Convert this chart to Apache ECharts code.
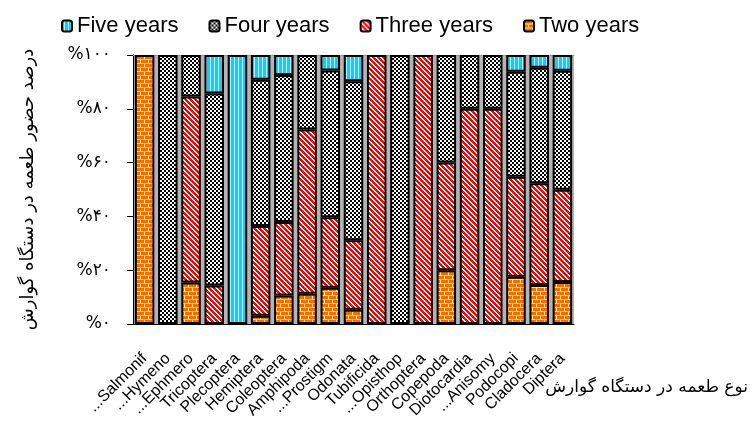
<!DOCTYPE html>
<html>
<head>
<meta charset="utf-8">
<script src="https://cdn.jsdelivr.net/npm/echarts@6/dist/echarts.min.js"></script>
<style>
  html, body { margin: 0; padding: 0; background: #fff; }
  #chart { width: 750px; height: 421px; }
</style>
</head>
<body>
<div id="chart"></div>
<script>
// Prey groups found in the gut (x axis)
const categories = ['...Salmonif', '...Hymeno', '...Ephmero', 'Tricoptera', 'Plecoptera', 'Hemiptera',
  'Coleoptera', 'Amphipoda', '...Prostigm', 'Odonata', 'Tubificida', '...Opisthop', 'Orthoptera',
  'Copepoda', 'Diotocardia', '...Anisomy', 'Podocopi', 'Cladocera', 'Diptera'];

// Share of occurrence (%) per age class
const twoYears   = [100, 0, 15.4, 0, 0, 3.1, 10.6, 11.2, 13.5, 5.3, 0, 0, 0, 20, 0, 0, 17.6, 14.5, 15.6];
const threeYears = [0, 0, 69.2, 14.3, 0, 33.3, 27.3, 61.1, 26.2, 25.8, 100, 0, 100, 40, 80, 80, 37.1, 37.8, 34.3];
const fourYears  = [0, 100, 15.4, 71.4, 0, 54.4, 54.7, 27.7, 54.5, 59.1, 0, 100, 0, 40, 20, 20, 39.1, 43.0, 44.2];
const fiveYears  = [0, 0, 0, 14.3, 100, 9.2, 7.4, 0, 5.8, 9.8, 0, 0, 0, 0, 0, 0, 6.2, 4.7, 5.9];

const seriesNames = ['Two years', 'Three years', 'Four years', 'Five years'];
const legendOrder = ['Five years', 'Four years', 'Three years', 'Two years'];

// Y tick labels in Persian digits
const yTickLabels = ['%۰', '%۲۰', '%۴۰', '%۶۰', '%۸۰', '%۱۰۰'];

const yTitle = 'درصد حضور طعمه در دستگاه گوارش';
const xTitle = 'نوع طعمه در دستگاه گوارش';

// Small canvas tiles used as fill patterns
function tile(w, h, paint) {
  const c = document.createElement('canvas');
  c.width = w; c.height = h;
  const ctx = c.getContext('2d');
  paint(ctx);
  return { image: c, repeat: 'repeat' };
}

const brick = tile(8, 8, ctx => {
  ctx.fillStyle = '#ff6a00'; ctx.fillRect(0, 0, 8, 8);
  ctx.fillStyle = '#ffe27a';
  ctx.fillRect(0, 3, 8, 1); ctx.fillRect(0, 7, 8, 1);
  ctx.fillRect(0, 0, 1, 3); ctx.fillRect(4, 4, 1, 3);
});

// red diagonal hatching running down to the right
const stripes = tile(5, 5, ctx => {
  ctx.fillStyle = '#ffffff'; ctx.fillRect(0, 0, 5, 5);
  ctx.fillStyle = '#ff0000';
  for (let y = 0; y < 5; y++) for (let x = 0; x < 5; x++) {
    if (((x - y) % 5 + 5) % 5 < 3) ctx.fillRect(x, y, 1, 1);
  }
});

const checker = tile(4, 4, ctx => {
  ctx.fillStyle = '#000'; ctx.fillRect(0, 0, 4, 4);
  ctx.fillStyle = '#fff';
  ctx.fillRect(0, 0, 2, 2); ctx.fillRect(2, 2, 2, 2);
});

const cyan = tile(4, 1, ctx => {
  ctx.fillStyle = '#1ec8f0'; ctx.fillRect(0, 0, 4, 1);
  ctx.fillStyle = '#a8f4ff'; ctx.fillRect(2, 0, 1, 1);
});

const fills = [brick, stripes, checker, cyan];
const values = [twoYears, threeYears, fourYears, fiveYears];

const series = seriesNames.map((name, i) => ({
  name,
  type: 'bar',
  stack: 'total',
  barCategoryGap: '16%',
  itemStyle: { color: fills[i], borderColor: '#000', borderWidth: 2 },
  data: values[i].map(v => (v === 0 ? '-' : v))
}));

const chart = echarts.init(document.getElementById('chart'), null, { renderer: 'canvas' });
chart.setOption({
  animation: false,
  legend: {
    data: legendOrder,
    top: 10,
    left: 56,
    itemWidth: 10,
    itemHeight: 11,
    itemGap: 30,
    textStyle: { fontFamily: 'Liberation Sans', fontSize: 22, color: '#000' }
  },
  grid: {
    left: 133, right: 176, top: 55, bottom: 95,
    show: true, backgroundColor: '#b4b4b4', borderWidth: 0
  },
  xAxis: [{
    type: 'category',
    data: categories,
    axisLine: { lineStyle: { color: '#000', width: 1 } },
    axisTick: { length: 8, lineStyle: { color: '#000' } },
    axisLabel: {
      rotate: 45, margin: 32, interval: 0,
      fontFamily: 'Liberation Sans', fontSize: 16, color: '#000'
    }
  }, {
    type: 'category',
    position: 'top',
    data: categories,
    axisLine: { lineStyle: { color: '#999', width: 1 } },
    axisTick: { show: false },
    axisLabel: { show: false }
  }],
  yAxis: {
    type: 'value',
    min: 0, max: 100, interval: 20,
    name: yTitle,
    nameLocation: 'middle',
    nameRotate: 90,
    nameGap: 96,
    nameTextStyle: { fontFamily: 'DejaVu Sans', fontSize: 18, color: '#000' },
    axisLine: { show: true, lineStyle: { color: '#000', width: 1 } },
    axisTick: { show: true, length: 6, lineStyle: { color: '#000' } },
    splitLine: { show: false },
    axisLabel: {
      margin: 22,
      fontFamily: 'DejaVu Sans', fontSize: 17, color: '#000',
      formatter: v => yTickLabels[Math.round(v / 20)]
    }
  },
  graphic: [{
    type: 'text',
    right: 2,
    top: 379,
    style: { text: xTitle, font: '17px "DejaVu Sans"', fill: '#000' }
  }],
  series
});
</script>
</body>
</html>
